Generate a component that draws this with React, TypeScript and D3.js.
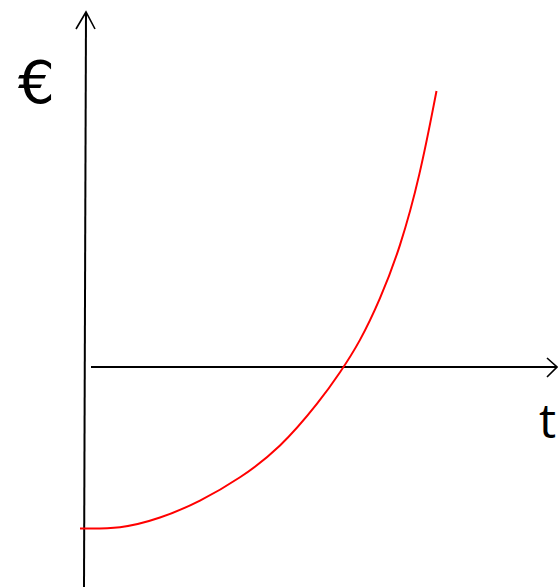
import React from "react";
import * as d3 from "d3";

// Curve samples: time t (arbitrary units) and value in € (arbitrary units)
const tValues = [-0.106, 0.742, 1.589, 2.436, 3.284, 4.131, 4.979, 5.403, 5.826, 6.25, 6.674, 7.097, 7.447];
const euroValues = [-16.15, -16.2, -15.17, -13.46, -11.13, -8.15, -3.4, -0.57, 2.53, 6.72, 11.87, 19.1, 27.6];
const yLabel = "€";
const xLabel = "t";

const W = 558;
const H = 587;

export default function App() {
  const x = d3.scaleLinear().domain([0, 10]).range([85, 557]);
  const y = d3.scaleLinear().domain([0, 10]).range([367, 267]);

  const pts: [number, number][] = tValues.map((t, i) => [t, euroValues[i]]);
  const line = d3
    .line<[number, number]>()
    .x((d) => x(d[0]))
    .y((d) => y(d[1]))
    .curve(d3.curveBasis);

  const x0 = x(0);
  const y0 = y(0);

  return (
    <svg
      width={W}
      height={H}
      style={{ position: "absolute", left: 0, top: 0, background: "#fff" }}
    >
      {/* y axis */}
      <line x1={x0 - 1} y1={H} x2={x0 + 1} y2={12} stroke="#000" strokeWidth={2} />
      <polyline
        points={`${x0 - 9},29 ${x0 + 1},12 ${x0 + 10},29`}
        fill="none"
        stroke="#000"
        strokeWidth={1.6}
      />
      {/* x axis */}
      <line x1={91} y1={y0} x2={557} y2={y0} stroke="#000" strokeWidth={2} />
      <polyline
        points={`547,${y0 - 9} 557,${y0} 547,${y0 + 10}`}
        fill="none"
        stroke="#000"
        strokeWidth={1.6}
      />
      {/* curve */}
      <path d={line(pts) || ""} fill="none" stroke="#ff0000" strokeWidth={2} />
      {/* labels */}
      <text x={18} y={103} fontFamily="'DejaVu Sans', sans-serif" fontSize={58} fill="#000">
        {yLabel}
      </text>
      <text x={539} y={438} fontFamily="'Open Sans', 'Liberation Sans', sans-serif" fontSize={48} fill="#000">
        {xLabel}
      </text>
    </svg>
  );
}
